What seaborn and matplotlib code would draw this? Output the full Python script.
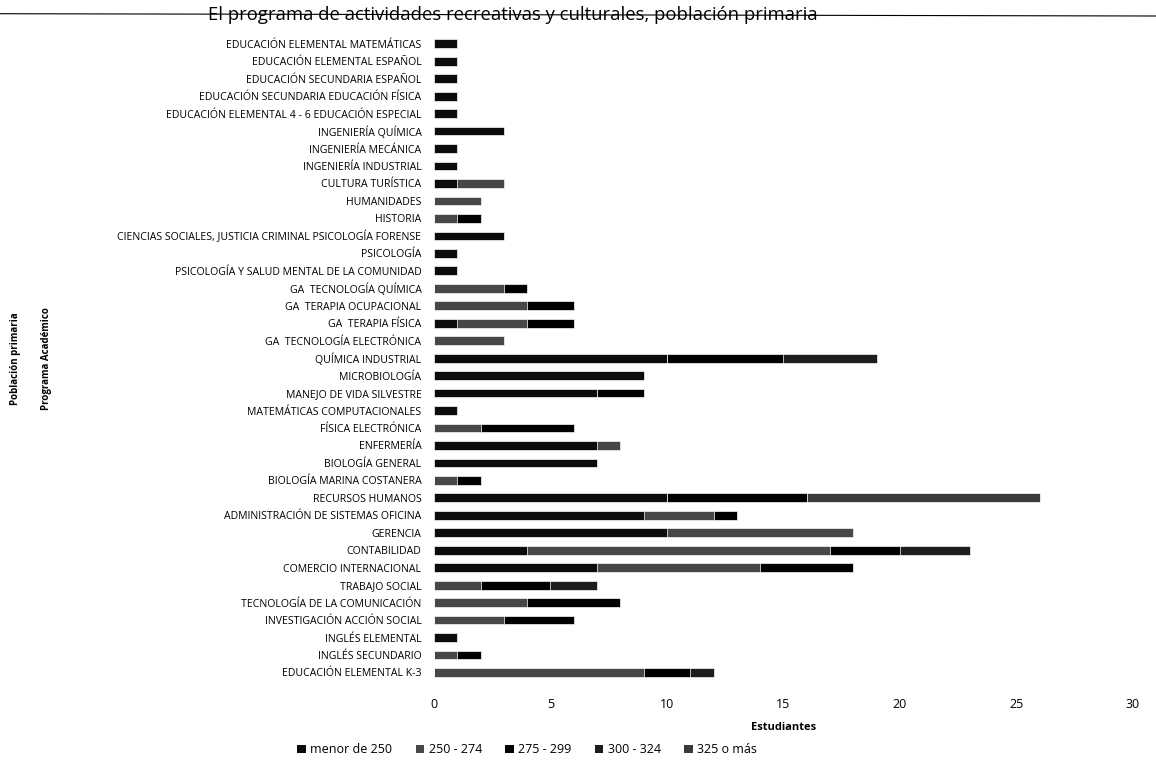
import numpy as np
import pandas as pd
import seaborn as sns
import matplotlib.pyplot as plt
from matplotlib.patches import Patch
from matplotlib.lines import Line2D

sns.set_theme(style="white")
plt.rcParams['font.family'] = ['Open Sans', 'DejaVu Sans']
plt.rcParams['text.color'] = 'black'
plt.rcParams['axes.labelcolor'] = 'black'

programas = [
    "EDUCACIÓN ELEMENTAL MATEMÁTICAS",
    "EDUCACIÓN ELEMENTAL ESPAÑOL",
    "EDUCACIÓN SECUNDARIA ESPAÑOL",
    "EDUCACIÓN SECUNDARIA EDUCACIÓN FÍSICA",
    "EDUCACIÓN ELEMENTAL 4 - 6 EDUCACIÓN ESPECIAL",
    "INGENIERÍA QUÍMICA",
    "INGENIERÍA MECÁNICA",
    "INGENIERÍA INDUSTRIAL",
    "CULTURA TURÍSTICA",
    "HUMANIDADES",
    "HISTORIA",
    "CIENCIAS SOCIALES, JUSTICIA CRIMINAL PSICOLOGÍA FORENSE",
    "PSICOLOGÍA",
    "PSICOLOGÍA Y SALUD MENTAL DE LA COMUNIDAD",
    "GA  TECNOLOGÍA QUÍMICA",
    "GA  TERAPIA OCUPACIONAL",
    "GA  TERAPIA FÍSICA",
    "GA  TECNOLOGÍA ELECTRÓNICA",
    "QUÍMICA INDUSTRIAL",
    "MICROBIOLOGÍA",
    "MANEJO DE VIDA SILVESTRE",
    "MATEMÁTICAS COMPUTACIONALES",
    "FÍSICA ELECTRÓNICA",
    "ENFERMERÍA",
    "BIOLOGÍA GENERAL",
    "BIOLOGÍA MARINA COSTANERA",
    "RECURSOS HUMANOS",
    "ADMINISTRACIÓN DE SISTEMAS OFICINA",
    "GERENCIA",
    "CONTABILIDAD",
    "COMERCIO INTERNACIONAL",
    "TRABAJO SOCIAL",
    "TECNOLOGÍA DE LA COMUNICACIÓN",
    "INVESTIGACIÓN ACCIÓN SOCIAL",
    "INGLÉS ELEMENTAL",
    "INGLÉS SECUNDARIO",
    "EDUCACIÓN ELEMENTAL K-3",
]

menor_250 = [1, 1, 1, 1, 1, 3, 1, 1, 1, 0, 0, 3, 1, 1, 0, 0, 1, 0, 10, 9,
             7, 1, 0, 7, 7, 0, 10, 9, 10, 4, 7, 0, 0, 0, 1, 0, 0]
r250_274 = [0, 0, 0, 0, 0, 0, 0, 0, 2, 2, 1, 0, 0, 0, 3, 4, 3, 3, 0, 0,
            0, 0, 2, 1, 0, 1, 0, 3, 8, 13, 7, 2, 4, 3, 0, 1, 9]
r275_299 = [0, 0, 0, 0, 0, 0, 0, 0, 0, 0, 1, 0, 0, 0, 1, 2, 2, 0, 5, 0,
            2, 0, 4, 0, 0, 1, 6, 1, 0, 3, 4, 3, 4, 3, 0, 1, 2]
r300_324 = [0, 0, 0, 0, 0, 0, 0, 0, 0, 0, 0, 0, 0, 0, 0, 0, 0, 0, 4, 0,
            0, 0, 0, 0, 0, 0, 0, 0, 0, 3, 0, 2, 0, 0, 0, 0, 1]
r325_mas = [0, 0, 0, 0, 0, 0, 0, 0, 0, 0, 0, 0, 0, 0, 0, 0, 0, 0, 0, 0,
            0, 0, 0, 0, 0, 0, 10, 0, 0, 0, 0, 0, 0, 0, 0, 0, 0]

series = ["menor de 250", "250 - 274", "275 - 299", "300 - 324", "325 o más"]
valores = [menor_250, r250_274, r275_299, r300_324, r325_mas]
colores = ["#0c0c0c", "#474747", "#000000", "#1d1d1d", "#3a3a3a"]

df = pd.DataFrame(dict(zip(series, valores)), index=programas)
acum = df.cumsum(axis=1)

fig = plt.figure(figsize=(11.56, 7.62), dpi=100)
ax = fig.add_axes([0.3754, 0.106, 0.6046, 0.848])

# stacked bars: draw cumulative totals from the last series back to the first
for nombre, color in reversed(list(zip(series, colores))):
    sns.barplot(x=acum[nombre].values, y=programas, orient="h", color=color,
                width=0.5, edgecolor="white", linewidth=0.5, ax=ax)

ax.set_xlim(0, 30)
ax.set_xticks(range(0, 31, 5))
ax.tick_params(axis="x", labelsize=9, length=0, pad=12, labelcolor="black")
ax.tick_params(axis="y", labelsize=7.6, length=0, pad=9, labelcolor="black")
for s in ax.spines.values():
    s.set_visible(False)
ax.set_xlabel("Estudiantes", fontsize=8, fontweight="bold", labelpad=8)
ax.set_ylabel("")

fig.text(0.013, 0.529, "Población primaria", rotation=90, fontsize=7,
         fontweight="bold", ha="center", va="center")
fig.text(0.040, 0.529, "Programa Académico", rotation=90, fontsize=7,
         fontweight="bold", ha="center", va="center")

fig.add_artist(Line2D([0, 1], [0.982, 0.979], color="black", lw=0.8,
                      transform=fig.transFigure, zorder=0))
fig.text(0.444, 0.980, "El programa de actividades recreativas y culturales, población primaria",
         fontsize=13.3, ha="center", va="center", zorder=1)

handles = [Patch(facecolor=c, edgecolor="none", label=n) for n, c in zip(series, colores)]
fig.legend(handles=handles, loc="center", bbox_to_anchor=(0.456, 0.016), ncol=5,
           frameon=False, fontsize=9, handlelength=0.7, handleheight=0.7,
           handletextpad=0.35, columnspacing=1.85)

fig.savefig("out.png", dpi=100)
